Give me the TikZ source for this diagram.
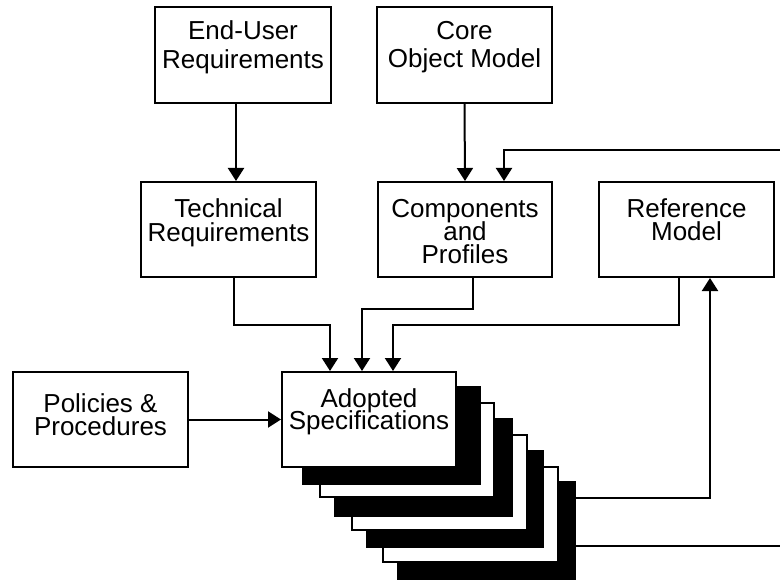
\documentclass[tikz,border=0pt]{standalone}
\usepackage{fontspec}
\setmainfont{Liberation Sans}
\usetikzlibrary{arrows.meta}
\lineskiplimit=-50pt
\normallineskiplimit=-50pt
\newcommand\tstrut{\vrule height 20bp depth 0pt width 0pt}
\begin{document}
\begin{tikzpicture}[x=1bp,y=-1bp,
  box/.style={draw=black, line width=2bp, fill=white, inner sep=0pt},
  blk/.style={draw=black, line width=2bp, fill=black, inner sep=0pt},
  lbl/.style={anchor=north, inner sep=0pt, align=center,
    font=\fontsize{26bp}{#1}\selectfont},
  arr/.style={line width=2bp, -{Triangle[length=13bp,width=16bp]}},
  ln/.style={line width=2bp}]
\clip (0,0) rectangle (780,580);
\fill[white] (0,0) rectangle (780,580);

% top row
\node[box, minimum width=176bp, minimum height=96bp] (eu) at (243,55) {};
\node[box, minimum width=175bp, minimum height=96bp] (core) at (464.5,55) {};
% middle row
\node[box, minimum width=175bp, minimum height=95bp] (tech) at (228.5,229.5) {};
\node[box, minimum width=174bp, minimum height=95bp] (comp) at (465,229.5) {};
\node[box, minimum width=175bp, minimum height=95bp] (ref) at (686.5,229.5) {};
% bottom row
\node[box, minimum width=175bp, minimum height=95bp] (pol) at (100.5,419.5) {};

% stack of specifications, back to front
\node[blk, minimum width=177bp, minimum height=97bp] (L7) at (486.5,530.5) {};
\node[box, minimum width=175bp, minimum height=95bp] (L6) at (470.5,514.5) {};
\node[blk, minimum width=176bp, minimum height=96bp] (L5) at (455,499) {};
\node[box, minimum width=175bp, minimum height=95bp] (L4) at (439.5,482.5) {};
\node[blk, minimum width=177bp, minimum height=97bp] (L3) at (423.5,467.5) {};
\node[box, minimum width=174bp, minimum height=94bp] (L2) at (407,450) {};
\node[blk, minimum width=177bp, minimum height=97bp] (L1) at (391.5,435.5) {};
\node[box, minimum width=174bp, minimum height=95bp] (ad) at (369,419.5) {};

% texts
\node[lbl=29bp] (teu) at ([yshift=-13bp]eu.north) {\tstrut End-User\\Requirements};
\node[lbl=28bp] (tcore) at ([yshift=-13bp]core.north) {\tstrut Core\\Object Model};
\node[lbl=24bp] (ttech) at ([yshift=-16bp]tech.north) {\tstrut Technical\\Requirements};
\node[lbl=23bp] (tcomp) at ([yshift=-16.7bp]comp.north) {\tstrut Components\\and\\Profiles};
\node[lbl=23bp] (tref) at ([yshift=-16bp]ref.north) {\tstrut Reference\\Model};
\node[lbl=23bp] (tpol) at ([yshift=-21bp]pol.north) {\tstrut Policies \&\\Procedures};
\node[lbl=21.5bp] (tad) at ([yshift=-16.7bp]ad.north) {\tstrut Adopted\\Specifications};

% connectors
\draw[arr] ([xshift=-7bp]eu.south) -- ([xshift=-7bp]eu.south |- tech.north);
\draw[arr] (core.south) -- (comp.north);
\draw[arr] ([xshift=5.5bp]tech.south) -- ++(0,47) -| ([xshift=-39bp]ad.north);
\draw[arr] ([xshift=8bp]comp.south) -- ++(0,31) -| ([xshift=-7bp]ad.north);
\draw[arr] ([xshift=-7.5bp]ref.south) -- ++(0,47) -| ([xshift=24bp]ad.north);
\draw[arr] (pol.east) -- (ad.west);
\draw[arr] ([yshift=32.5bp]L7.east) -| ([xshift=23.5bp]ref.south);
\draw[arr] ([yshift=-15.5bp]L7.east) -- ++(215,0) -- ++(0,-396) -| ([xshift=39bp]comp.north);
\end{tikzpicture}
\end{document}
